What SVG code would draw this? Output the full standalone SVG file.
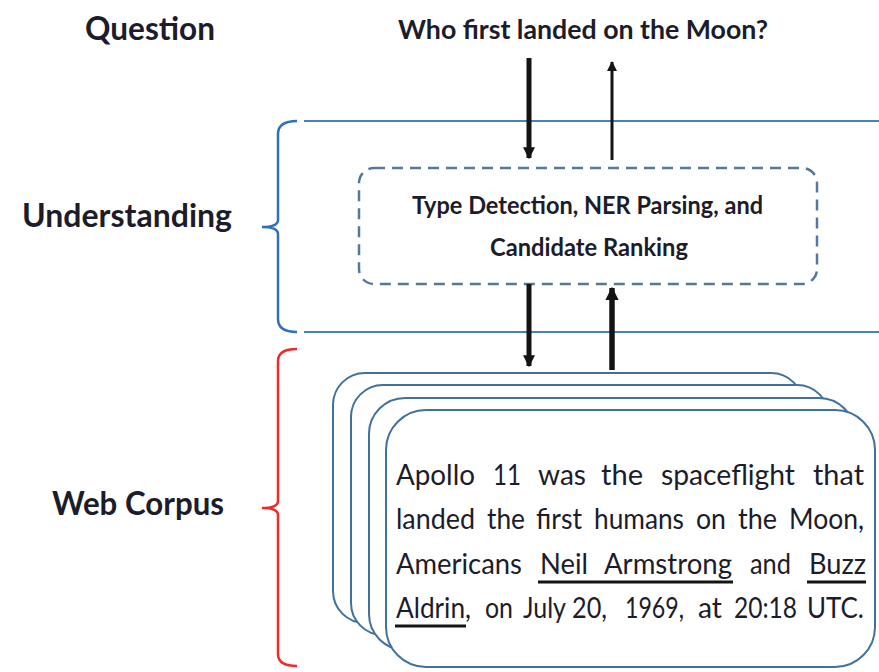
<svg xmlns="http://www.w3.org/2000/svg" width="879" height="672" viewBox="0 0 879 672">
  <style>
    .hd { font-family: Lato, "Open Sans", "Liberation Sans", sans-serif; font-weight: 700; fill: #1c1c2a; }
    .body { font-family: Lato, "Open Sans", "Liberation Sans", sans-serif; font-weight: 400; fill: #1c1c2a; font-size: 29px; }
    .band { stroke: #4a7fc1; stroke-width: 2; fill: none; }
    .brace-blue { stroke: #2f6fbd; stroke-width: 2.5; fill: none; }
    .brace-red { stroke: #ee2a2a; stroke-width: 2.5; fill: none; }
    .card { fill: #ffffff; stroke: #41719c; stroke-width: 2; }
    .flow { stroke: #141414; fill: none; }
    .ul { stroke: #141414; stroke-width: 3; }
  </style>
  <defs>
    <marker id="head" viewBox="0 0 10 10" refX="9" refY="5" markerWidth="2.4" markerHeight="2.4" orient="auto" markerUnits="strokeWidth">
      <path d="M0,0 L10,5 L0,10 Z" fill="#141414"/>
    </marker>
    <marker id="headThin" viewBox="0 0 10 10" refX="9" refY="5" markerWidth="3.4" markerHeight="3.4" orient="auto" markerUnits="strokeWidth">
      <path d="M0,0 L10,5 L0,10 Z" fill="#141414"/>
    </marker>
  </defs>

  <!-- row labels -->
  <g id="label-question">
    <text class="hd" x="85" y="40" font-size="32" textLength="130" lengthAdjust="spacingAndGlyphs">Question</text>
  </g>
  <g id="label-understanding">
    <text class="hd" x="22" y="227" font-size="32" textLength="210" lengthAdjust="spacingAndGlyphs">Understanding</text>
  </g>
  <g id="label-webcorpus">
    <text class="hd" x="52" y="515" font-size="32" textLength="172" lengthAdjust="spacingAndGlyphs">Web Corpus</text>
  </g>

  <!-- question -->
  <g id="question">
    <text class="hd" x="398" y="39" font-size="27" textLength="370" lengthAdjust="spacingAndGlyphs">Who first landed on the Moon?</text>
  </g>

  <!-- understanding band -->
  <g id="understanding-band">
    <line class="band" x1="304" y1="121" x2="879" y2="121"/>
    <line class="band" x1="304" y1="332" x2="879" y2="332"/>
    <path class="brace-blue" d="M297,121 Q278,121 278,134 L278,220 Q278,227 262,227 Q278,227 278,234 L278,319 Q278,332 297,332"/>
  </g>

  <!-- processing step -->
  <g id="processing">
    <rect x="359" y="168" width="458" height="116" rx="15" fill="none" stroke="#57789a" stroke-width="2.5" stroke-dasharray="11 7"/>
    <text class="hd" x="412" y="214" font-size="25" textLength="351" lengthAdjust="spacingAndGlyphs">Type Detection, NER Parsing, and</text>
    <text class="hd" x="490" y="256" font-size="25" textLength="198" lengthAdjust="spacingAndGlyphs">Candidate Ranking</text>
  </g>

  <!-- web corpus band -->
  <g id="corpus-band">
    <path class="brace-red" d="M297,349 Q278,349 278,361 L278,501 Q278,508 262,508 Q278,508 278,515 L278,654 Q278,666 297,666"/>
  </g>

  <!-- stacked documents -->
  <g id="documents">
    <rect class="card" x="333" y="373" width="470" height="250" rx="32"/>
    <rect class="card" x="351" y="385" width="478" height="250" rx="32"/>
    <rect class="card" x="369" y="398" width="486" height="252" rx="36"/>
    <rect class="card" x="386" y="410" width="489" height="257" rx="40"/>
    <text class="body" y="485"><tspan x="396" textLength="79" lengthAdjust="spacingAndGlyphs">Apollo</tspan><tspan x="493" textLength="28" lengthAdjust="spacingAndGlyphs">11</tspan><tspan x="538" textLength="48" lengthAdjust="spacingAndGlyphs">was</tspan><tspan x="601" textLength="42" lengthAdjust="spacingAndGlyphs">the</tspan><tspan x="661" textLength="134" lengthAdjust="spacingAndGlyphs">spaceflight</tspan><tspan x="813" textLength="51" lengthAdjust="spacingAndGlyphs">that</tspan></text>
    <text class="body" y="529"><tspan x="396" textLength="79" lengthAdjust="spacingAndGlyphs">landed</tspan><tspan x="487" textLength="38" lengthAdjust="spacingAndGlyphs">the</tspan><tspan x="536" textLength="46" lengthAdjust="spacingAndGlyphs">first</tspan><tspan x="594" textLength="90" lengthAdjust="spacingAndGlyphs">humans</tspan><tspan x="696" textLength="30" lengthAdjust="spacingAndGlyphs">on</tspan><tspan x="738" textLength="39" lengthAdjust="spacingAndGlyphs">the</tspan><tspan x="789" textLength="75" lengthAdjust="spacingAndGlyphs">Moon,</tspan></text>
    <text class="body" y="574"><tspan x="396" textLength="126" lengthAdjust="spacingAndGlyphs">Americans</tspan><tspan x="540" textLength="48" lengthAdjust="spacingAndGlyphs">Neil</tspan><tspan x="604" textLength="128" lengthAdjust="spacingAndGlyphs">Armstrong</tspan><tspan x="750" textLength="41" lengthAdjust="spacingAndGlyphs">and</tspan><tspan x="809" textLength="57" lengthAdjust="spacingAndGlyphs">Buzz</tspan></text>
    <text class="body" y="618"><tspan x="396" textLength="75" lengthAdjust="spacingAndGlyphs">Aldrin,</tspan><tspan x="485" textLength="28" lengthAdjust="spacingAndGlyphs">on</tspan><tspan x="523" textLength="43" lengthAdjust="spacingAndGlyphs">July</tspan><tspan x="572" textLength="35" lengthAdjust="spacingAndGlyphs">20,</tspan><tspan x="625" textLength="59" lengthAdjust="spacingAndGlyphs">1969,</tspan><tspan x="698" textLength="24" lengthAdjust="spacingAndGlyphs">at</tspan><tspan x="734" textLength="63" lengthAdjust="spacingAndGlyphs">20:18</tspan><tspan x="807" textLength="57" lengthAdjust="spacingAndGlyphs">UTC.</tspan></text>
    <line class="ul" x1="538" y1="582" x2="733" y2="582"/>
    <line class="ul" x1="807" y1="582" x2="866" y2="582"/>
    <line class="ul" x1="395" y1="626" x2="466" y2="626"/>
  </g>

  <!-- connectors -->
  <g id="connectors">
    <line class="flow" x1="529" y1="58" x2="529" y2="158" stroke-width="5" marker-end="url(#head)"/>
    <line class="flow" x1="612" y1="160" x2="612" y2="62" stroke-width="3" marker-end="url(#headThin)"/>
    <line class="flow" x1="529" y1="284" x2="529" y2="366" stroke-width="5" marker-end="url(#head)"/>
    <line class="flow" x1="612" y1="370" x2="612" y2="288" stroke-width="5.5" marker-end="url(#head)"/>
  </g>
</svg>
